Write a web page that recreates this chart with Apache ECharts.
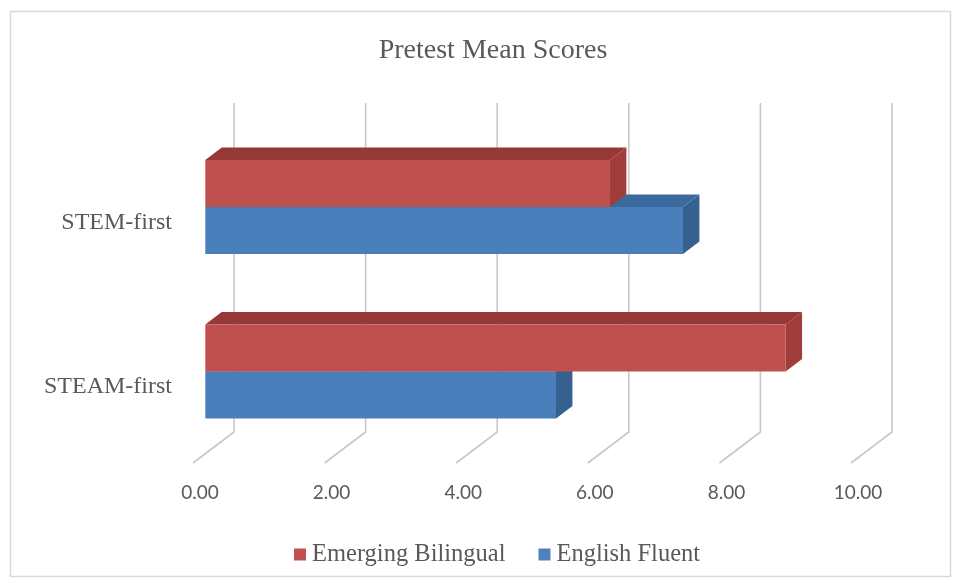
<!DOCTYPE html>
<html><head><meta charset="utf-8">
<script src="https://cdn.jsdelivr.net/npm/echarts@6/dist/echarts.min.js"></script>
<style>html,body{margin:0;padding:0;background:#fff}#c{width:959px;height:583px}</style>
</head><body><div id="c"></div>
<script>
const categories = ['STEAM-first', 'STEM-first'];
const seriesNames = ['Emerging Bilingual', 'English Fluent'];
const emergingBilingual = [8.82, 6.15];
const englishFluent = [5.33, 7.26];
const xTicks = [0, 2, 4, 6, 8, 10];

const DX = 41, DY = -31;      // full depth offset (front plane -> back wall)
const DF = 0.3, DB = 0.7;     // bar front / back depth
const BAR = 0.2857;           // bar height as fraction of band

function barRenderer(pos, front, top, side) {
  return function (params, api) {
    const ci = api.value(1);
    const p0 = api.coord([0, ci]);
    const p1 = api.coord([api.value(0), ci]);
    const band = api.size([0, 1])[1];
    const h = band * BAR;
    const cy = p0[1];
    const yt = pos === 'top' ? cy - h : cy;
    const yb = yt + h;
    const fx = DX * DF, fy = DY * DF, bx = DX * DB, by = DY * DB;
    const x0 = p0[0], x1 = p1[0];
    return {
      type: 'group', children: [
        { type: 'polygon', shape: { points: [[x1 + fx, yt + fy], [x1 + bx, yt + by], [x1 + bx, yb + by], [x1 + fx, yb + fy]] }, style: { fill: side } },
        { type: 'polygon', shape: { points: [[x0 + fx, yt + fy], [x1 + fx, yt + fy], [x1 + bx, yt + by], [x0 + bx, yt + by]] }, style: { fill: top } },
        { type: 'rect', shape: { x: x0 + fx, y: yt + fy, width: x1 - x0, height: h }, style: { fill: front } }
      ]
    };
  };
}

function gridRenderer(params, api) {
  const cs = params.coordSys;
  const x = api.coord([api.value(0), 0])[0];
  const top = cs.y, bottom = cs.y + cs.height;
  return {
    type: 'polyline',
    shape: { points: [[x + DX, top + DY], [x + DX, bottom + DY], [x, bottom]] },
    style: { stroke: '#c8c8c8', lineWidth: 1.6, fill: null }
  };
}

const chart = echarts.init(document.getElementById('c'));
chart.setOption({
  animation: false,
  backgroundColor: '#fff',
  title: {
    text: 'Pretest Mean Scores',
    left: 488, top: 32, textAlign: 'center',
    textStyle: { fontFamily: 'Liberation Serif', fontSize: 28, fontWeight: 'normal', color: '#595959' }
  },
  legend: {
    data: seriesNames,
    left: 289, top: 537,
    icon: 'rect', itemWidth: 12, itemHeight: 12, itemGap: 33,
    textStyle: { fontFamily: 'Liberation Serif', fontSize: 24.5, color: '#595959', padding: [0, 0, 0, 1] }
  },
  grid: { left: 193, width: 658, top: 134, height: 329, containLabel: false },
  xAxis: {
    type: 'value', min: 0, max: 10, interval: 2,
    axisLine: { show: false }, axisTick: { show: false }, splitLine: { show: false },
    axisLabel: { formatter: v => v.toFixed(2), margin: 20, padding: [0, 0, 0, 14], fontFamily: 'Lato', fontSize: 19, color: '#595959' }
  },
  yAxis: {
    type: 'category', data: categories,
    axisLine: { show: false }, axisTick: { show: false }, splitLine: { show: false },
    axisLabel: { margin: 21, verticalAlign: 'top', lineHeight: 12, fontFamily: 'Liberation Serif', fontSize: 24, color: '#595959' }
  },
  graphic: [{
    type: 'rect', shape: { x: 10.5, y: 11.5, width: 940, height: 565 },
    style: { fill: null, stroke: '#d9d9d9', lineWidth: 1.5 }, z: -10
  }],
  series: [
    { type: 'custom', name: '_grid', renderItem: gridRenderer, data: xTicks.map(v => [v, 0]), silent: true, z: 1 },
    { type: 'custom', name: seriesNames[1], itemStyle: { color: '#4F81BD' }, renderItem: barRenderer('bottom', '#4A7EBB', '#3C6A9F', '#36608F'),
      encode: { x: 0, y: 1 }, data: englishFluent.map((v, i) => [v, i]), z: 2 },
    { type: 'custom', name: seriesNames[0], itemStyle: { color: '#C0504D' }, renderItem: barRenderer('top', '#C0504D', '#953836', '#A03D3A'),
      encode: { x: 0, y: 1 }, data: emergingBilingual.map((v, i) => [v, i]), z: 3 }
  ]
});
</script>
</body></html>
